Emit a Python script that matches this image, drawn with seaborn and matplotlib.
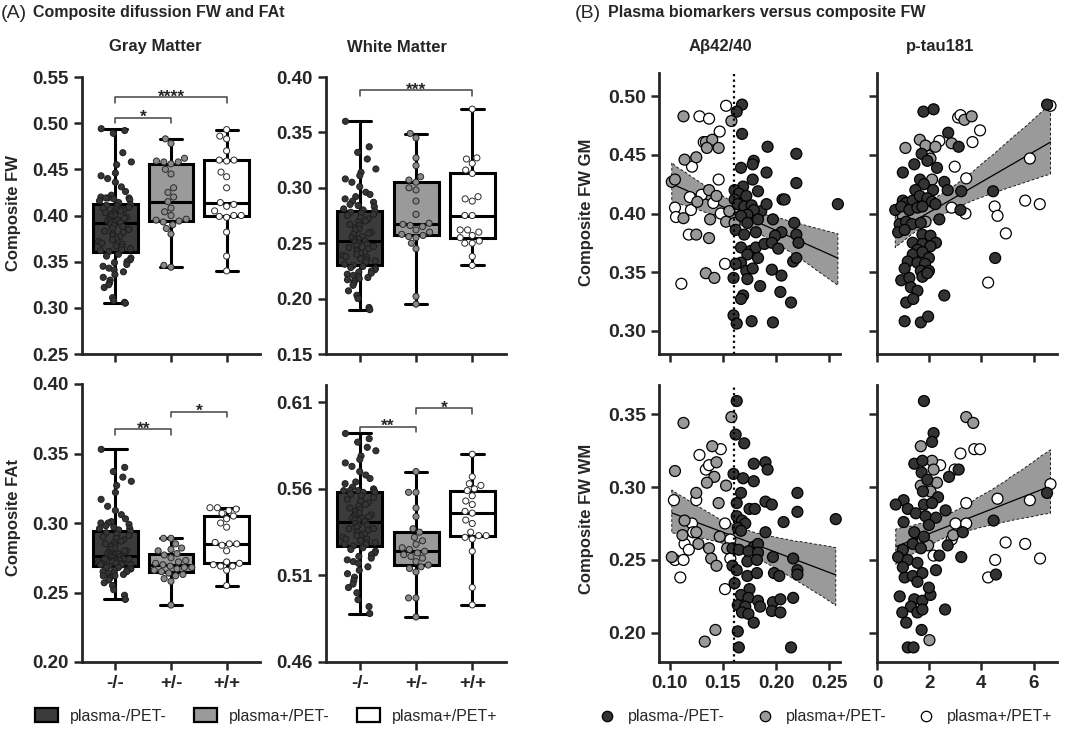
import numpy as np
import pandas as pd
import matplotlib
matplotlib.use("Agg")
import matplotlib.pyplot as plt
import seaborn as sns
from matplotlib.patches import Patch
from matplotlib.lines import Line2D

sns.set_style("ticks")
plt.rcParams["font.family"] = ["Liberation Sans", "DejaVu Sans"]
plt.rcParams["font.weight"] = "bold"

# ---------------- data: box plots ----------------
box_groups = ["-/-", "+/-", "+/+"]

gm_fw_neg = [0.494, 0.492, 0.489, 0.468, 0.458, 0.455, 0.446, 0.443, 0.440, 0.436, 0.431, 0.426, 0.422, 0.420, 0.419, 0.419, 0.419, 0.418, 0.417, 0.416, 0.414,
             0.412,
             0.411, 0.410, 0.409, 0.408, 0.407, 0.406, 0.405, 0.404, 0.403, 0.402, 0.401, 0.400, 0.399, 0.398, 0.397, 0.396, 0.395, 0.394, 0.393, 0.393,
             0.392,
             0.391, 0.389, 0.388, 0.386, 0.385, 0.383, 0.382, 0.380, 0.378, 0.377, 0.375, 0.374, 0.372, 0.370, 0.369, 0.367, 0.366, 0.364, 0.363, 0.362,
             0.361,
             0.358, 0.356, 0.354, 0.352, 0.350, 0.349, 0.347, 0.345, 0.343, 0.341, 0.339, 0.336, 0.333, 0.330, 0.327, 0.325, 0.322, 0.311, 0.308, 0.306, 0.305]
gm_fw_pn = [0.344, 0.346, 0.380, 0.386, 0.390, 0.393, 0.394, 0.395, 0.396, 0.400, 0.404, 0.408, 0.415,
            0.420, 0.425, 0.430, 0.445, 0.450, 0.456, 0.458, 0.458, 0.459, 0.462, 0.478, 0.483]
gm_fw_pp = [0.340, 0.356, 0.382, 0.398, 0.399, 0.400, 0.400, 0.405, 0.410, 0.412, 0.414,
            0.430, 0.442, 0.447, 0.459, 0.460, 0.460, 0.470, 0.483, 0.486, 0.493]

wm_fw_neg = [0.360, 0.337, 0.332, 0.326, 0.317, 0.314, 0.311, 0.308, 0.305, 0.301, 0.296, 0.294, 0.292, 0.290, 0.288, 0.287, 0.285, 0.284, 0.283, 0.281, 0.280,
             0.279,
             0.278, 0.277, 0.276, 0.275, 0.273, 0.272, 0.270, 0.269, 0.267, 0.266, 0.264, 0.263, 0.262, 0.260, 0.259, 0.258, 0.256, 0.255, 0.254, 0.253,
             0.252,
             0.251, 0.250, 0.249, 0.248, 0.247, 0.246, 0.245, 0.244, 0.243, 0.242, 0.241, 0.240, 0.239, 0.238, 0.237, 0.236, 0.235, 0.234, 0.233, 0.231,
             0.230,
             0.229, 0.228, 0.227, 0.226, 0.225, 0.224, 0.223, 0.222, 0.221, 0.220, 0.219, 0.218, 0.217, 0.216, 0.214, 0.212, 0.207, 0.203, 0.200, 0.192, 0.190]
wm_fw_pn = [0.195, 0.202, 0.245, 0.250, 0.255, 0.256, 0.257, 0.258, 0.260, 0.262, 0.265, 0.266, 0.267,
            0.268, 0.276, 0.288, 0.298, 0.300, 0.305, 0.307, 0.310, 0.320, 0.327, 0.345, 0.349]
wm_fw_pp = [0.230, 0.238, 0.250, 0.250, 0.252, 0.255, 0.257, 0.260, 0.262, 0.262, 0.275,
            0.275, 0.288, 0.290, 0.292, 0.313, 0.316, 0.322, 0.326, 0.327, 0.371]

gm_fat_neg = [0.353, 0.340, 0.337, 0.333, 0.330, 0.327, 0.322, 0.317, 0.312, 0.309, 0.306, 0.303, 0.301, 0.300, 0.300, 0.299, 0.298, 0.297, 0.296, 0.296, 0.295,
              0.294,
              0.293, 0.292, 0.291, 0.290, 0.289, 0.288, 0.287, 0.286, 0.285, 0.284, 0.283, 0.282, 0.281, 0.280, 0.280, 0.279, 0.278, 0.278, 0.277, 0.277,
              0.276,
              0.276, 0.275, 0.275, 0.275, 0.274, 0.274, 0.274, 0.273, 0.273, 0.273, 0.272, 0.272, 0.272, 0.271, 0.271, 0.271, 0.270, 0.270, 0.270, 0.270,
              0.269,
              0.268, 0.268, 0.267, 0.267, 0.266, 0.266, 0.265, 0.265, 0.264, 0.264, 0.263, 0.262, 0.262, 0.261, 0.260, 0.259, 0.257, 0.255, 0.252, 0.248, 0.245]
gm_fat_pn = [0.241, 0.258, 0.260, 0.262, 0.263, 0.264, 0.265, 0.266, 0.267, 0.268, 0.268, 0.269, 0.270,
             0.271, 0.272, 0.273, 0.275, 0.277, 0.278, 0.280, 0.281, 0.282, 0.285, 0.289, 0.289]
gm_fat_pp = [0.255, 0.266, 0.269, 0.269, 0.270, 0.271, 0.272, 0.280, 0.284, 0.285, 0.285,
             0.286, 0.297, 0.300, 0.303, 0.305, 0.307, 0.309, 0.310, 0.311, 0.311]

wm_fat_neg = [0.592, 0.589, 0.587, 0.584, 0.582, 0.579, 0.577, 0.575, 0.573, 0.570, 0.568, 0.566, 0.564, 0.563, 0.561, 0.560, 0.559, 0.559, 0.559, 0.559, 0.558,
              0.558,
              0.557, 0.556, 0.555, 0.554, 0.553, 0.552, 0.551, 0.550, 0.549, 0.548, 0.547, 0.546, 0.545, 0.545, 0.544, 0.544, 0.543, 0.543, 0.542, 0.542,
              0.541,
              0.540, 0.539, 0.539, 0.538, 0.537, 0.537, 0.536, 0.535, 0.535, 0.534, 0.533, 0.533, 0.532, 0.531, 0.531, 0.530, 0.529, 0.529, 0.528, 0.528,
              0.527,
              0.526, 0.525, 0.524, 0.523, 0.522, 0.521, 0.520, 0.519, 0.518, 0.517, 0.515, 0.513, 0.511, 0.509, 0.507, 0.505, 0.503, 0.500, 0.496, 0.492, 0.488]
wm_fat_pn = [0.486, 0.497, 0.497, 0.512, 0.514, 0.515, 0.516, 0.518, 0.520, 0.521, 0.522, 0.523, 0.524,
             0.525, 0.526, 0.528, 0.530, 0.532, 0.535, 0.537, 0.544, 0.549, 0.558, 0.558, 0.570]
wm_fat_pp = [0.493, 0.503, 0.524, 0.531, 0.532, 0.533, 0.533, 0.535, 0.540, 0.542, 0.546,
             0.547, 0.551, 0.553, 0.556, 0.559, 0.560, 0.562, 0.563, 0.567, 0.580]

# ---------------- data: scatter plots (x, y) ----------------
gm_ab_neg = [(0.168, 0.493), (0.163, 0.487), (0.168, 0.468), (0.192, 0.457), (0.219, 0.451), (0.179, 0.445), (0.178, 0.442),
             (0.167, 0.439), (0.191, 0.435), (0.178, 0.429), (0.219, 0.426), (0.169, 0.423), (0.183, 0.419), (0.161, 0.420),
             (0.165, 0.417), (0.172, 0.415), (0.206, 0.412), (0.161, 0.412), (0.164, 0.408), (0.170, 0.406), (0.177, 0.407),
             (0.186, 0.402), (0.191, 0.408), (0.179, 0.403), (0.173, 0.399), (0.167, 0.398), (0.183, 0.395), (0.197, 0.395),
             (0.173, 0.392), (0.217, 0.392), (0.162, 0.386), (0.170, 0.382), (0.181, 0.384), (0.205, 0.384), (0.199, 0.381),
             (0.219, 0.382), (0.221, 0.375), (0.167, 0.371), (0.176, 0.368), (0.181, 0.371), (0.189, 0.374), (0.196, 0.375),
             (0.202, 0.370), (0.183, 0.362), (0.173, 0.365), (0.216, 0.359), (0.219, 0.362), (0.167, 0.358), (0.162, 0.357),
             (0.172, 0.351), (0.178, 0.353), (0.196, 0.352), (0.205, 0.347), (0.160, 0.345), (0.173, 0.344), (0.185, 0.338),
             (0.204, 0.333), (0.169, 0.330), (0.167, 0.327), (0.214, 0.324), (0.160, 0.313), (0.163, 0.306), (0.177, 0.308),
             (0.197, 0.307), (0.258, 0.408), (0.208, 0.412)]
gm_ab_pn = [(0.113, 0.483), (0.158, 0.479), (0.134, 0.461), (0.140, 0.463), (0.146, 0.456), (0.135, 0.456), (0.114, 0.446),
            (0.125, 0.448), (0.102, 0.427), (0.105, 0.429), (0.137, 0.420), (0.144, 0.415), (0.126, 0.410), (0.113, 0.396),
            (0.138, 0.395), (0.153, 0.393), (0.125, 0.382), (0.137, 0.379), (0.134, 0.349), (0.142, 0.345), (0.156, 0.402),
            (0.161, 0.392)]
gm_ab_pp = [(0.153, 0.492), (0.128, 0.483), (0.137, 0.481), (0.147, 0.470), (0.132, 0.461), (0.121, 0.440), (0.146, 0.429),
            (0.119, 0.414), (0.141, 0.409), (0.105, 0.405), (0.120, 0.403), (0.106, 0.397), (0.118, 0.382), (0.152, 0.357),
            (0.111, 0.340), (0.130, 0.416), (0.148, 0.400)]

gm_pt_neg = [(1.78, 0.487), (2.17, 0.489), (2.73, 0.469), (3.13, 0.457), (1.71, 0.451), (1.93, 0.445), (1.43, 0.442),
             (2.30, 0.439), (0.99, 0.435), (1.65, 0.429), (1.80, 0.425), (2.58, 0.427), (2.71, 0.420), (1.47, 0.420),
             (2.15, 0.420), (3.23, 0.419), (4.45, 0.419), (0.99, 0.411), (1.12, 0.409), (1.37, 0.411), (1.64, 0.415),
             (1.93, 0.413), (2.11, 0.410), (0.70, 0.403), (0.93, 0.406), (1.24, 0.403), (1.55, 0.405), (1.74, 0.406),
             (2.24, 0.408), (3.20, 0.403), (2.39, 0.395), (0.87, 0.391), (1.12, 0.393), (1.34, 0.391), (1.68, 0.392),
             (0.81, 0.384), (1.06, 0.386), (1.74, 0.382), (2.05, 0.381), (1.37, 0.375), (1.74, 0.374), (2.26, 0.375),
             (1.55, 0.369), (2.05, 0.372), (1.37, 0.365), (1.74, 0.367), (1.99, 0.362), (1.18, 0.359), (1.55, 0.358),
             (1.84, 0.357), (1.06, 0.353), (1.68, 0.351), (1.99, 0.351), (0.93, 0.343), (1.24, 0.345), (1.74, 0.346),
             (1.93, 0.349), (4.53, 0.362), (1.30, 0.337), (1.55, 0.334), (1.12, 0.324), (1.39, 0.327), (2.58, 0.330),
             (1.06, 0.308), (1.68, 0.307), (1.96, 0.312), (6.52, 0.493)]
gm_pt_pn = [(1.09, 0.456), (1.64, 0.463), (1.86, 0.458), (2.24, 0.457), (2.86, 0.460), (3.35, 0.480), (3.63, 0.483),
            (2.11, 0.429), (0.99, 0.398), (1.86, 0.393), (2.05, 0.447)]
gm_pt_pp = [(3.11, 0.482), (3.20, 0.484), (3.95, 0.471), (3.66, 0.461), (2.39, 0.462), (2.98, 0.440), (3.42, 0.430),
            (2.86, 0.405), (3.39, 0.400), (4.51, 0.406), (4.62, 0.398), (4.94, 0.383), (5.68, 0.411), (6.24, 0.408),
            (5.86, 0.447), (4.26, 0.341), (6.65, 0.492), (1.99, 0.449)]

wm_ab_neg = [(0.163, 0.359), (0.162, 0.336), (0.170, 0.330), (0.179, 0.316), (0.190, 0.317), (0.192, 0.312), (0.160, 0.309),
             (0.169, 0.306), (0.179, 0.304), (0.167, 0.296), (0.220, 0.296), (0.220, 0.283), (0.163, 0.289), (0.190, 0.290),
             (0.196, 0.288), (0.175, 0.285), (0.180, 0.285), (0.207, 0.276), (0.163, 0.280), (0.168, 0.277), (0.171, 0.275),
             (0.164, 0.272), (0.167, 0.270), (0.190, 0.269), (0.256, 0.278), (0.179, 0.259), (0.183, 0.261), (0.159, 0.258),
             (0.165, 0.257), (0.174, 0.256), (0.183, 0.255), (0.197, 0.252), (0.216, 0.251), (0.159, 0.246), (0.163, 0.243),
             (0.173, 0.249), (0.182, 0.250), (0.198, 0.241), (0.203, 0.239), (0.220, 0.243), (0.220, 0.240), (0.173, 0.239),
             (0.182, 0.241), (0.161, 0.234), (0.175, 0.230), (0.167, 0.226), (0.174, 0.224), (0.183, 0.222), (0.164, 0.219),
             (0.171, 0.218), (0.185, 0.218), (0.197, 0.221), (0.204, 0.223), (0.216, 0.224), (0.168, 0.214), (0.174, 0.213),
             (0.196, 0.215), (0.204, 0.214), (0.179, 0.207), (0.164, 0.201), (0.165, 0.190), (0.214, 0.190)]
wm_ab_pn = [(0.113, 0.344), (0.158, 0.348), (0.140, 0.328), (0.144, 0.317), (0.105, 0.311), (0.142, 0.307), (0.135, 0.303),
            (0.153, 0.301), (0.125, 0.296), (0.146, 0.289), (0.114, 0.277), (0.112, 0.267), (0.125, 0.269), (0.127, 0.261),
            (0.137, 0.258), (0.139, 0.251), (0.144, 0.246), (0.102, 0.252), (0.147, 0.266), (0.154, 0.258), (0.143, 0.202),
            (0.133, 0.194)]
wm_ab_pp = [(0.148, 0.326), (0.128, 0.322), (0.134, 0.312), (0.137, 0.315), (0.104, 0.291), (0.125, 0.291), (0.121, 0.275),
            (0.122, 0.269), (0.114, 0.261), (0.118, 0.257), (0.105, 0.250), (0.113, 0.250), (0.152, 0.275), (0.157, 0.264),
            (0.157, 0.251), (0.110, 0.238), (0.152, 0.230)]

wm_pt_neg = [(1.80, 0.359), (2.17, 0.337), (2.11, 0.331), (1.43, 0.316), (1.74, 0.318), (1.71, 0.310), (1.93, 0.305),
             (2.76, 0.307), (3.13, 0.312), (1.76, 0.297), (2.34, 0.293), (1.02, 0.291), (0.72, 0.288), (1.18, 0.285),
             (1.80, 0.288), (2.11, 0.289), (1.49, 0.282), (1.86, 0.280), (2.63, 0.284), (1.02, 0.276), (2.26, 0.279),
             (4.47, 0.277), (1.99, 0.274), (1.43, 0.269), (1.80, 0.266), (3.29, 0.269), (2.71, 0.260), (0.99, 0.257),
             (1.37, 0.261), (1.68, 0.258), (0.81, 0.252), (1.18, 0.250), (1.55, 0.248), (2.39, 0.253), (3.23, 0.252),
             (1.06, 0.238), (1.37, 0.239), (1.74, 0.241), (2.26, 0.243), (4.56, 0.240), (0.87, 0.225), (1.43, 0.223),
             (1.74, 0.222), (2.05, 0.226), (1.30, 0.218), (0.97, 0.214), (1.55, 0.214), (1.74, 0.216), (2.61, 0.216),
             (1.12, 0.207), (1.71, 0.202), (1.18, 0.190), (1.40, 0.190), (6.52, 0.296), (1.55, 0.235), (1.99, 0.231),
             (0.99, 0.245)]
wm_pt_pn = [(3.42, 0.348), (3.69, 0.344), (1.68, 0.328), (2.11, 0.318), (2.17, 0.312), (2.30, 0.303), (1.68, 0.301),
            (2.05, 0.297), (2.92, 0.267), (1.74, 0.263), (1.96, 0.260), (2.01, 0.195)]
wm_pt_pp = [(3.73, 0.326), (3.95, 0.326), (3.20, 0.323), (2.42, 0.315), (2.98, 0.312), (3.42, 0.289), (4.62, 0.292),
            (5.86, 0.291), (3.01, 0.275), (3.42, 0.275), (4.93, 0.262), (5.68, 0.261), (4.53, 0.250), (6.25, 0.251),
            (4.26, 0.238), (6.65, 0.302), (2.86, 0.264), (2.17, 0.253)]

legend_labels = ["plasma-/PET-", "plasma+/PET-", "plasma+/PET+"]
abeta_cutoff = 0.16

# ---------------- styling ----------------
box_fill = {"-/-": "#3b3b3b", "+/-": "#9a9a9a", "+/+": "#ffffff"}
pt_fill = {"-/-": "#353535", "+/-": "#8a8a8a", "+/+": "#ffffff"}
sc_fill = {"plasma-/PET-": "#333333", "plasma+/PET-": "#999999", "plasma+/PET+": "#ffffff"}

W, H = 1080, 731
fig = plt.figure(figsize=(W / 100, H / 100), dpi=100)


def ax_px(l, t, r, b):
    return fig.add_axes([l / W, 1 - b / H, (r - l) / W, (b - t) / H])


def style_axes(ax):
    sns.despine(ax=ax)
    for s in ("left", "bottom"):
        ax.spines[s].set_linewidth(2.0)
    ax.tick_params(width=1.8, length=6, direction="out")
    ax.set_xlabel("")
    ax.set_ylabel("")


def draw_box(ax, vals, ylim, yticks, brackets, show_xlabels):
    df = pd.DataFrame({"grp": np.repeat(box_groups, [len(v) for v in vals]),
                       "val": np.concatenate(vals)})
    sns.boxplot(data=df, x="grp", y="val", hue="grp", order=box_groups, hue_order=box_groups,
                palette=box_fill, whis=(0, 100), width=0.8, linewidth=2.2, linecolor="black",
                showfliers=False, legend=False, ax=ax)
    big = df[df["grp"] == "-/-"]
    small = df[df["grp"] != "-/-"]
    np.random.seed(7)  # jitter layout only
    sns.stripplot(data=big, x="grp", y="val", hue="grp", order=box_groups, hue_order=box_groups,
                  palette=pt_fill, size=4.4, jitter=0.3, edgecolor="#1e1e1e", linewidth=0.7,
                  legend=False, ax=ax, zorder=5)
    sns.swarmplot(data=small, x="grp", y="val", hue="grp", order=box_groups, hue_order=box_groups,
                  palette=pt_fill, size=4.4, edgecolor="#2a2a2a", linewidth=0.7, legend=False,
                  ax=ax, zorder=5, warn_thresh=1)
    ax.set_xlim(-0.6, 2.6)
    ax.set_ylim(*ylim)
    ax.set_yticks(yticks)
    ax.set_yticklabels([f"{t:.2f}" for t in yticks], fontsize=13.5, fontweight="bold")
    ax.set_xticks(range(3))
    if show_xlabels:
        ax.set_xticklabels(box_groups, fontsize=13.5, fontweight="bold")
    else:
        ax.set_xticklabels([])
    d = (ylim[1] - ylim[0]) * 0.02
    for x0, x1, y, stars in brackets:
        ax.plot([x0, x0, x1, x1], [y - d, y, y, y - d], color="#444444", lw=1.1, zorder=6)
        ax.annotate(stars, xy=((x0 + x1) / 2, y), xytext=(0, -3), textcoords="offset points",
                    ha="center", va="baseline", fontsize=12.5, fontweight="bold")
    style_axes(ax)


def draw_scatter(ax, pn, pp, neg, xlim, ylim, xticks, yticks, xlab, ylab, vline=None, xfmt="{:.2f}"):
    rows = [("plasma+/PET+", x, y) for x, y in pp] + \
           [("plasma+/PET-", x, y) for x, y in pn] + \
           [("plasma-/PET-", x, y) for x, y in neg]
    df = pd.DataFrame(rows, columns=["grp", "x", "y"])
    sns.regplot(data=df, x="x", y="y", scatter=False, ci=95, seed=0, ax=ax, color="black",
                line_kws=dict(lw=0.9, color="black", zorder=2))
    band = ax.collections[-1]
    band.set_facecolor("#9a9a9a")
    band.set_alpha(1)
    band.set_edgecolor("#222222")
    band.set_linestyle((0, (3, 2)))
    band.set_linewidth(0.7)
    band.set_zorder(1)
    sns.scatterplot(data=df, x="x", y="y", hue="grp", palette=sc_fill, s=62, edgecolor="black",
                    linewidth=0.9, legend=False, ax=ax, zorder=3, clip_on=False)
    if vline is not None:
        ax.axvline(vline, color="black", ls=(0, (1, 1.5)), lw=1.6, zorder=4)
    ax.set_xlim(*xlim)
    ax.set_ylim(*ylim)
    ax.set_xticks(xticks)
    ax.set_yticks(yticks)
    if xlab:
        ax.set_xticklabels([xfmt.format(t) for t in xticks], fontsize=13.5, fontweight="bold")
    else:
        ax.set_xticklabels([])
    if ylab:
        ax.set_yticklabels([f"{t:.2f}" for t in yticks], fontsize=14, fontweight="bold")
    else:
        ax.set_yticklabels([])
    style_axes(ax)


# ---- panel A ----
ax1 = ax_px(82, 77, 260, 354)
draw_box(ax1, [gm_fw_neg, gm_fw_pn, gm_fw_pp], (0.25, 0.55), [0.25, 0.30, 0.35, 0.40, 0.45, 0.50, 0.55],
         [(0, 2, 0.528, "****"), (0, 1, 0.506, "*")], False)
ax2 = ax_px(326, 77, 506, 354)
draw_box(ax2, [wm_fw_neg, wm_fw_pn, wm_fw_pp], (0.15, 0.40), [0.15, 0.20, 0.25, 0.30, 0.35, 0.40],
         [(0, 2, 0.388, "***")], False)
ax3 = ax_px(82, 384, 260, 662)
draw_box(ax3, [gm_fat_neg, gm_fat_pn, gm_fat_pp], (0.20, 0.40), [0.20, 0.25, 0.30, 0.35, 0.40],
         [(0, 1, 0.3675, "**"), (1, 2, 0.380, "*")], True)
ax4 = ax_px(326, 385, 506, 662)
draw_box(ax4, [wm_fat_neg, wm_fat_pn, wm_fat_pp], (0.46, 0.62), [0.46, 0.51, 0.56, 0.61],
         [(0, 1, 0.596, "**"), (1, 2, 0.6065, "*")], True)

# ---- panel B ----
ax5 = ax_px(659, 73, 840, 354)
draw_scatter(ax5, gm_ab_pn, gm_ab_pp, gm_ab_neg, (0.09, 0.26), (0.28, 0.52),
             [0.10, 0.15, 0.20, 0.25], [0.30, 0.35, 0.40, 0.45, 0.50], False, True, vline=abeta_cutoff)
ax6 = ax_px(877, 73, 1057, 354)
draw_scatter(ax6, gm_pt_pn, gm_pt_pp, gm_pt_neg, (0, 6.9), (0.28, 0.52),
             [0, 2, 4, 6], [0.30, 0.35, 0.40, 0.45, 0.50], False, False, xfmt="{:d}")
ax7 = ax_px(659, 385, 840, 662)
draw_scatter(ax7, wm_ab_pn, wm_ab_pp, wm_ab_neg, (0.09, 0.26), (0.18, 0.37),
             [0.10, 0.15, 0.20, 0.25], [0.20, 0.25, 0.30, 0.35], True, True, vline=abeta_cutoff)
ax8 = ax_px(877, 385, 1057, 662)
draw_scatter(ax8, wm_pt_pn, wm_pt_pp, wm_pt_neg, (0, 6.9), (0.18, 0.37),
             [0, 2, 4, 6], [0.20, 0.25, 0.30, 0.35], True, False, xfmt="{:d}")

# ---- texts ----
def ftext(x, y, s, **kw):
    fig.text(x / W, 1 - y / H, s, **kw)

ftext(1, 13, "(A)", fontsize=14, fontweight="normal", va="center", ha="left")
ftext(33, 13, "Composite difussion FW and FAt", fontsize=11.5, fontweight="bold", va="center", ha="left")
ftext(575, 13, "(B)", fontsize=14, fontweight="normal", va="center", ha="left")
ftext(608, 13, "Plasma biomarkers versus composite FW", fontsize=11.5, fontweight="bold", va="center", ha="left")

ftext(155, 47, "Gray Matter", fontsize=12, fontweight="bold", ha="center", va="center")
ftext(397, 47, "White Matter", fontsize=12, fontweight="bold", ha="center", va="center")
ftext(720, 47, "Aβ42/40", fontsize=12, fontweight="bold", ha="center", va="center")
ftext(940, 47, "p-tau181", fontsize=12, fontweight="bold", ha="center", va="center")

ftext(14, 213, "Composite FW", fontsize=12, fontweight="bold", ha="center", va="center", rotation=90)
ftext(14, 518, "Composite FAt", fontsize=12, fontweight="bold", ha="center", va="center", rotation=90)
ftext(587, 212, "Composite FW GM", fontsize=12, fontweight="bold", ha="center", va="center", rotation=90)
ftext(587, 519, "Composite FW WM", fontsize=12, fontweight="bold", ha="center", va="center", rotation=90)

# ---- legends ----
box_handles = [Patch(facecolor=box_fill[g], edgecolor="black", linewidth=1.6) for g in box_groups]
fig.legend(box_handles, legend_labels, loc="center", bbox_to_anchor=(266 / W, 1 - 716 / H), ncol=3,
           frameon=False, prop={"size": 11.5, "weight": "normal"}, handlelength=1.45, handleheight=0.9,
           handletextpad=0.75, columnspacing=1.7)
sc_handles = [Line2D([], [], ls="none", marker="o", markersize=7.5, markerfacecolor=sc_fill[l],
                     markeredgecolor="black", markeredgewidth=0.9) for l in legend_labels]
fig.legend(sc_handles, legend_labels, loc="center", bbox_to_anchor=(826 / W, 1 - 717 / H), ncol=3,
           frameon=False, prop={"size": 11.5, "weight": "normal"}, handlelength=1.0,
           handletextpad=0.8, columnspacing=2.0)

fig.savefig("out.png", dpi=100)
